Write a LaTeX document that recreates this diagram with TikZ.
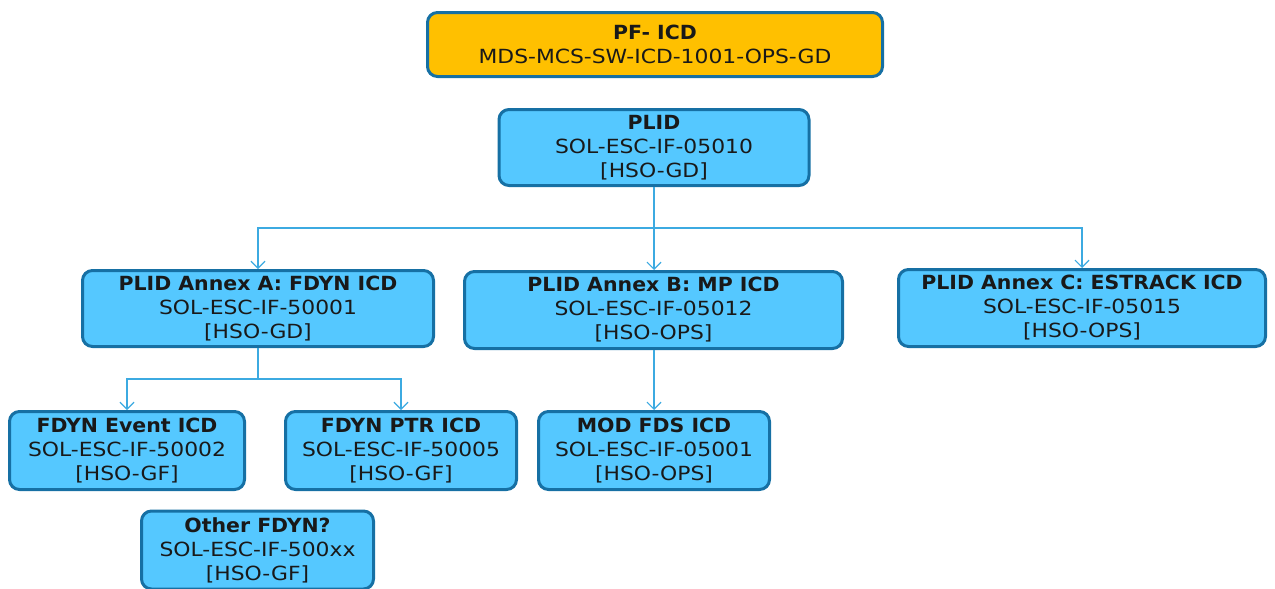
\documentclass[tikz,border=0pt]{standalone}
\usepackage{fontspec}
\setmainfont{DejaVu Sans}[FakeStretch=1.12, BoldFeatures={FakeStretch=1.05}]
\usetikzlibrary{arrows.meta}
\definecolor{boxfill}{RGB}{85,200,255}
\definecolor{boxline}{RGB}{22,112,164}
\definecolor{topfill}{RGB}{255,192,0}
\definecolor{conn}{RGB}{60,170,225}
\tikzset{
  icdbox/.style={draw=boxline, line width=3pt, fill=boxfill, rounded corners=10pt,
    align=center, inner sep=0pt, font=\fontsize{19.5}{24}\selectfont, text=black!90},
  topbox/.style={icdbox, fill=topfill},
  link/.style={draw=conn, line width=1.3pt, -{Straight Barb[length=7pt,width=14pt,line width=1.2pt]}},
  plain/.style={draw=conn, line width=1.3pt}
}
\begin{document}
\begin{tikzpicture}[x=1pt,y=-1pt]
\useasboundingbox (0,0) rectangle (1275,589);
\node[topbox, minimum width=455pt, minimum height=64pt] (pf) at (655,44.5) {\textbf{PF- ICD}\\MDS-MCS-SW-ICD-1001-OPS-GD};
\node[icdbox, minimum width=310pt, minimum height=76pt] (plid) at (654,147.5) {\textbf{PLID}\\SOL-ESC-IF-05010\\{[HSO-GD]}};
\node[icdbox, minimum width=351pt, minimum height=76pt] (anxa) at (258,308.5) {\textbf{PLID Annex A: FDYN ICD}\\SOL-ESC-IF-50001\\{[HSO-GD]}};
\node[icdbox, minimum width=378pt, minimum height=77pt] (anxb) at (653.5,310) {\textbf{PLID Annex B: MP ICD}\\SOL-ESC-IF-05012\\{[HSO-OPS]}};
\node[icdbox, minimum width=367pt, minimum height=77pt] (anxc) at (1082,308) {\textbf{PLID Annex C: ESTRACK ICD}\\SOL-ESC-IF-05015\\{[HSO-OPS]}};
\node[icdbox, minimum width=235pt, minimum height=78pt] (fev) at (127,450.5) {\textbf{FDYN Event ICD}\\SOL-ESC-IF-50002\\{[HSO-GF]}};
\node[icdbox, minimum width=231pt, minimum height=78pt] (fptr) at (401,450.5) {\textbf{FDYN PTR ICD}\\SOL-ESC-IF-50005\\{[HSO-GF]}};
\node[icdbox, minimum width=231pt, minimum height=78pt] (mod) at (654,450.5) {\textbf{MOD FDS ICD}\\SOL-ESC-IF-05001\\{[HSO-OPS]}};
\node[icdbox, minimum width=232pt, minimum height=78pt] (oth) at (257.5,550) {\textbf{Other FDYN?}\\SOL-ESC-IF-500xx\\{[HSO-GF]}};
\coordinate (j1) at (654,228);
\coordinate (j2) at (258,379);
\draw[link] (plid.south) -- (plid.south |- anxb.north);
\draw[link] (j1) -| (anxa.north);
\draw[link] (j1) -| (anxc.north);
\draw[plain] (anxa.south) -- (j2);
\draw[link] (j2) -| (fev.north);
\draw[link] (j2) -| (fptr.north);
\draw[link] (anxb.south -| mod.north) -- (mod.north);
\end{tikzpicture}
\end{document}
